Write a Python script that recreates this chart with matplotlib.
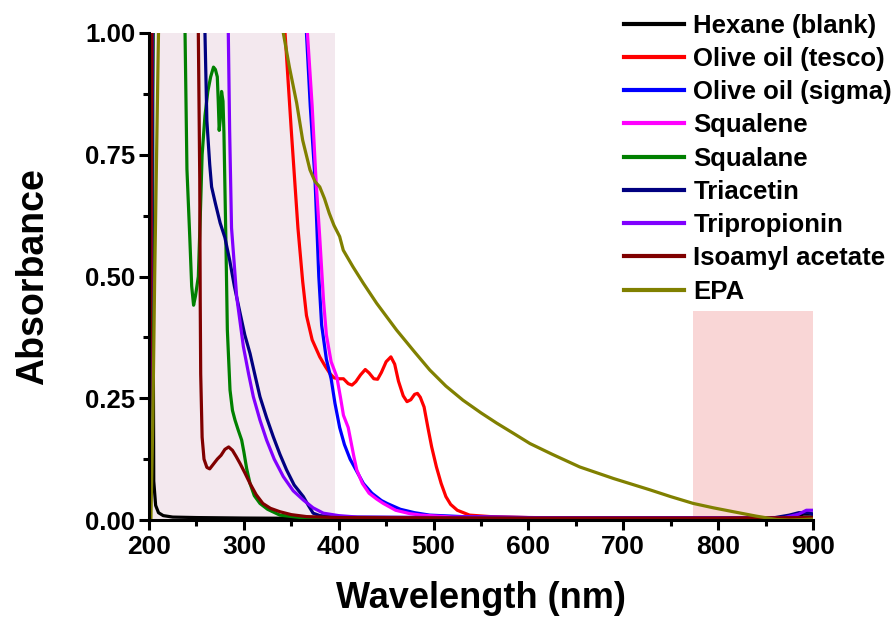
import numpy as np
import matplotlib
matplotlib.use('Agg')
import matplotlib.pyplot as plt
from matplotlib.ticker import MultipleLocator

plt.rcParams['font.family'] = ['Liberation Sans', 'DejaVu Sans']
plt.rcParams['font.weight'] = 'bold'

# --- data (wavelength nm, absorbance) ---
hexane_x = [200, 201, 203, 205, 207, 210, 215, 225, 250, 300, 400, 600, 800, 860, 880, 890, 900]
hexane_y = [0.30, 1.5, 1.2, 0.08, 0.03, 0.015, 0.009, 0.006, 0.005, 0.004, 0.003, 0.003, 0.003, 0.004, 0.008, 0.012, 0.012]

tesco_x = [200, 202, 205, 338, 343.4, 350, 357, 362, 366, 372, 380, 386, 391, 395, 400, 405, 410,
           414, 418, 423, 428, 432, 437, 441, 445, 450, 455, 459, 463, 468, 472, 476, 480, 483, 486,
           490, 494, 498, 503, 508, 513, 518, 525, 538, 560, 600, 700, 800, 900]
tesco_y = [0.12, 0.6, 1.5, 1.3, 1.0, 0.80, 0.60, 0.49, 0.42, 0.37, 0.335, 0.315, 0.30, 0.292, 0.29, 0.29, 0.28,
           0.277, 0.284, 0.298, 0.309, 0.302, 0.29, 0.289, 0.303, 0.325, 0.335, 0.32, 0.285, 0.255, 0.243, 0.247, 0.258, 0.26, 0.252,
           0.232, 0.19, 0.15, 0.109, 0.075, 0.048, 0.032, 0.02, 0.01, 0.007, 0.005, 0.004, 0.004, 0.005]

sigma_x = [200, 202, 205, 362, 366, 370, 375, 379, 382, 387, 392, 396, 401, 406, 412, 419, 426, 435,
           445, 451, 465, 480, 496, 530, 600, 700, 800, 880, 900]
sigma_y = [0.12, 0.6, 1.5, 1.3, 1.0, 0.85, 0.70, 0.50, 0.40, 0.33, 0.29, 0.24, 0.19, 0.155, 0.125, 0.10, 0.075, 0.055,
           0.04, 0.034, 0.022, 0.015, 0.01, 0.007, 0.005, 0.004, 0.004, 0.005, 0.005]

squalene_x = [200, 202, 205, 363, 367, 372, 376, 380, 384, 387, 392, 398, 402, 405, 408, 410, 413, 416,
              419, 425, 432, 440, 447, 460, 475, 487, 520, 600, 900]
squalene_y = [0.12, 0.6, 1.5, 1.3, 1.0, 0.85, 0.70, 0.58, 0.45, 0.38, 0.325, 0.294, 0.25, 0.215, 0.20, 0.19, 0.16, 0.13,
              0.103, 0.075, 0.055, 0.043, 0.034, 0.02, 0.013, 0.01, 0.006, 0.005, 0.004]

squalane_x = [200, 203, 206, 236, 238, 240, 243, 245, 247, 249, 252, 254, 256, 259, 262, 265, 268, 270,
              272, 273, 274, 275, 276.5, 278, 279, 281, 282.6, 285.4, 288, 290.7, 294, 297.7, 300, 303,
              306.5, 311, 317, 325, 338, 360, 400, 900]
squalane_y = [0.10, 0.5, 1.5, 1.3, 1.0, 0.72, 0.58, 0.48, 0.441, 0.46, 0.50, 0.62, 0.75, 0.83, 0.88, 0.91, 0.93, 0.925,
              0.91, 0.86, 0.80, 0.82, 0.88, 0.86, 0.795, 0.58, 0.39, 0.267, 0.225, 0.205, 0.185, 0.164, 0.14, 0.105,
              0.075, 0.05, 0.034, 0.022, 0.01, 0.005, 0.003, 0.002]

triacetin_x = [200, 203, 205, 256, 259, 261, 264, 266, 270, 275, 280, 285, 290, 296, 301, 306.5, 312, 317,
               324, 331, 338, 345, 353, 362.7, 368, 373, 380, 400, 500, 800, 860, 875, 885, 895, 900]
triacetin_y = [0.10, 0.6, 1.5, 1.3, 1.0, 0.82, 0.73, 0.684, 0.65, 0.61, 0.58, 0.534, 0.48, 0.425, 0.38, 0.342, 0.295, 0.253,
               0.21, 0.171, 0.135, 0.103, 0.072, 0.048, 0.03, 0.014, 0.009, 0.006, 0.005, 0.004, 0.005, 0.01, 0.015, 0.015, 0.012]

tripropionin_x = [200, 202, 204, 281, 283.6, 285, 287, 292.4, 299.5, 305, 310, 317, 324, 332, 341.6, 352,
                  362.7, 373, 383.8, 400, 420, 500, 800, 870, 885, 893, 900]
tripropionin_y = [0.12, 0.5, 1.5, 1.3, 1.0, 0.80, 0.60, 0.459, 0.356, 0.30, 0.253, 0.205, 0.164, 0.125, 0.089, 0.06,
                  0.041, 0.025, 0.014, 0.009, 0.006, 0.005, 0.004, 0.005, 0.012, 0.02, 0.02]

isoamyl_x = [200, 202, 204, 250, 252, 253.5, 254, 254.5, 256, 258, 261, 264, 268, 272, 276, 280, 284, 288,
             292, 296, 301, 306.5, 313, 320, 328, 338, 350, 366, 400, 600, 800, 900]
isoamyl_y = [0.10, 0.5, 1.5, 1.3, 1.0, 0.70, 0.45, 0.30, 0.17, 0.125, 0.108, 0.105, 0.115, 0.125, 0.133, 0.145, 0.15, 0.143,
             0.13, 0.116, 0.097, 0.075, 0.052, 0.034, 0.024, 0.017, 0.011, 0.007, 0.005, 0.004, 0.004, 0.005]

epa_x = [200, 202, 204, 206, 208, 210, 212, 338, 341.6, 348, 355.7, 362, 369.7, 375, 380, 385, 390, 395,
         401, 404.8, 415, 426, 440, 461, 480, 496, 513, 531, 550, 566.5, 585, 601.6, 625, 654, 690, 728,
         750, 773.8, 795, 816, 840, 861.7, 875, 890, 900]
epa_y = [0.0, 0.0, 0.2, 0.5, 0.75, 1.0, 1.5, 1.3, 1.0, 0.93, 0.856, 0.78, 0.719, 0.695, 0.684, 0.66, 0.63, 0.605,
         0.582, 0.554, 0.52, 0.486, 0.445, 0.39, 0.345, 0.308, 0.275, 0.246, 0.22, 0.199, 0.177, 0.157, 0.135, 0.109, 0.085, 0.062,
         0.048, 0.034, 0.025, 0.017, 0.008, 0.001, 0.0, 0.001, 0.002]

labels = ['Hexane (blank)', 'Olive oil (tesco)', 'Olive oil (sigma)', 'Squalene', 'Squalane',
          'Triacetin', 'Tripropionin', 'Isoamyl acetate', 'EPA']
colors = ['#000000', '#ff0000', '#0000ff', '#ff00ff', '#008000', '#000080', '#8000ff', '#800000', '#808000']
series = [(hexane_x, hexane_y), (tesco_x, tesco_y), (sigma_x, sigma_y), (squalene_x, squalene_y),
          (squalane_x, squalane_y), (triacetin_x, triacetin_y), (tripropionin_x, tripropionin_y),
          (isoamyl_x, isoamyl_y), (epa_x, epa_y)]

uv_band = (200, 396)
nir_band = (773, 900, 0.43)

fig = plt.figure(figsize=(8.94, 6.19), dpi=100)
ax = fig.add_axes([149 / 894, 99 / 619, 664 / 894, 487 / 619])

ax.axvspan(uv_band[0], uv_band[1], color='#f3e8ee', lw=0, zorder=0)
ax.axvspan(nir_band[0], nir_band[1], ymin=0, ymax=nir_band[2], color='#f9d6d6', lw=0, zorder=0)

for (x, y), c, lab in zip(series, colors, labels):
    ax.plot(np.array(x), np.array(y), color=c, lw=2.3, label=lab)

ax.set_xlim(200, 900)
ax.set_ylim(0, 1)
ax.xaxis.set_major_locator(MultipleLocator(100))
ax.xaxis.set_minor_locator(MultipleLocator(50))
ax.yaxis.set_major_locator(MultipleLocator(0.25))
ax.yaxis.set_minor_locator(MultipleLocator(0.125))
ax.yaxis.set_major_formatter(plt.FormatStrFormatter('%.2f'))

for s in ['top', 'right']:
    ax.spines[s].set_visible(False)
for s in ['left', 'bottom']:
    ax.spines[s].set_linewidth(2.2)
    ax.spines[s].set_zorder(5)

ax.tick_params(which='major', direction='out', length=7, width=2.2)
ax.tick_params(which='minor', direction='out', length=4.5, width=2.2)
ax.tick_params(axis='x', labelsize=19, pad=4)
ax.tick_params(axis='y', labelsize=18.5, pad=3)
for t in ax.get_xticklabels() + ax.get_yticklabels():
    t.set_fontweight('bold')

ax.set_xlabel('Wavelength (nm)', fontsize=26, fontweight='bold', labelpad=16)
ax.set_ylabel('Absorbance', fontsize=27, fontweight='bold', labelpad=24)

leg = fig.legend(loc='upper left', bbox_to_anchor=(624 / 894, 0.978), frameon=False,
                 fontsize=18.5, handlelength=2.35, handletextpad=0.35, labelspacing=0.36,
                 borderpad=0, borderaxespad=0)
for line in leg.get_lines():
    line.set_linewidth(3)

fig.savefig('out.png', dpi=100)
